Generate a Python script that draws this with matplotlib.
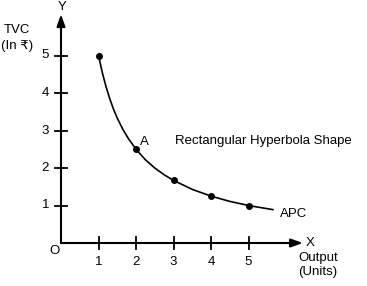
import matplotlib.pyplot as plt

plt.rcParams['font.family'] = ['Liberation Sans', 'DejaVu Sans']

# marked points on the APC curve
output_units = [1, 2, 3, 4, 5]
apc_values = [5.0, 2.5, 1.67, 1.25, 1.0]

# the smooth curve
curve_x = [1.0, 1.1, 1.2, 1.3, 1.4, 1.5, 1.65, 1.8, 2.0, 2.25, 2.5, 2.75, 3.0,
           3.5, 4.0, 4.5, 5.0, 5.35, 5.65]
curve_y = [5.0, 4.55, 4.17, 3.85, 3.57, 3.33, 3.03, 2.78, 2.5, 2.22, 2.0, 1.82,
           1.67, 1.43, 1.25, 1.11, 1.0, 0.94, 0.89]

x_ticks = [1, 2, 3, 4, 5]
y_ticks = [1, 2, 3, 4, 5]

px = 37.5  # pixels per unit
ox, oy = 61, 243  # origin in pixels
W, H = 367, 286

fig = plt.figure(figsize=(W / 100, H / 100), dpi=100)
ax = fig.add_axes([0, 0, 1, 1])
ax.set_xlim(-ox / px, (W - ox) / px)
ax.set_ylim(-(H - oy) / px, oy / px)
ax.axis('off')

fs = 9.5
k = 'black'

# axes with arrows
ax.annotate('', xy=(6.45, 0), xytext=(0, 0),
            arrowprops=dict(arrowstyle='-|>,head_length=0.7,head_width=0.25',
                            lw=1.5, color=k, shrinkA=0, shrinkB=0))
ax.annotate('', xy=(0, 6.1), xytext=(0, 0),
            arrowprops=dict(arrowstyle='-|>,head_length=0.7,head_width=0.25',
                            lw=1.5, color=k, shrinkA=0, shrinkB=0))

t = 6 / px
for xt in x_ticks:
    ax.plot([xt, xt], [-t, t], color=k, lw=1.3)
    ax.text(xt, -19 / px, str(xt), ha='center', va='center', fontsize=fs)
for yt in y_ticks:
    ax.plot([-t, t], [yt, yt], color=k, lw=1.3)
    ax.text(-12 / px, yt, str(yt), ha='right', va='center', fontsize=fs)

# curve and points
ax.plot(curve_x, curve_y, color=k, lw=1.2)
ax.plot(output_units, apc_values, 'o', color=k, markersize=4)

# labels
ax.text(0.02, 6.3, 'Y', ha='center', va='center', fontsize=fs)
ax.text(-44 / px, 213 / px, 'TVC', ha='center', va='center', fontsize=fs)
ax.text(-44 / px, 197 / px, '(In ₹)', ha='center', va='center', fontsize=fs)
ax.text(-6 / px, -8 / px, 'O', ha='center', va='center', fontsize=fs)
ax.text(245 / px, 0, 'X', ha='left', va='center', fontsize=fs)
ax.text(257 / px, -15 / px, 'Output', ha='center', va='center', fontsize=fs)
ax.text(257 / px, -29 / px, '(Units)', ha='center', va='center', fontsize=fs)
ax.text(2.1, 2.7, 'A', ha='left', va='center', fontsize=fs)
ax.text(114 / px, 102 / px, 'Rectangular Hyperbola Shape', ha='left',
        va='center', fontsize=fs)
ax.text(219 / px, 29 / px, 'APC', ha='left', va='center', fontsize=fs)

fig.savefig('out.png', dpi=100)
